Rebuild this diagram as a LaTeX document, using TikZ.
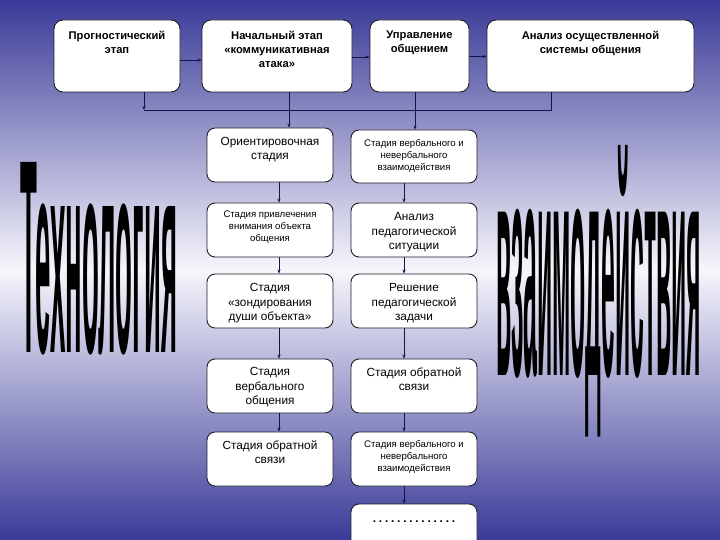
\documentclass[tikz,border=0pt]{standalone}
\usepackage{graphicx}
\usepackage{fontspec}
\setmainfont{Liberation Sans}
\usetikzlibrary{arrows.meta}
\definecolor{bgdark}{RGB}{58,58,152}
\definecolor{bglight}{RGB}{246,246,252}
\definecolor{conncol}{RGB}{20,20,70}
\definecolor{boxline}{RGB}{30,30,40}
\newcommand{\dotrow}{.\hspace{2.8pt}.\hspace{2.8pt}.\hspace{2.8pt}.\hspace{2.8pt}.\hspace{2.8pt}.\hspace{2.8pt}.\hspace{2.8pt}.\hspace{2.8pt}.\hspace{2.8pt}.\hspace{2.8pt}.\hspace{2.8pt}.\hspace{2.8pt}.\hspace{2.8pt}.}
\tikzset{
  box/.style={draw=boxline, fill=white, rounded corners=9pt, line width=0.9pt, inner sep=0pt},
  topbox/.style={box, minimum height=72pt},
  colbox/.style={box, minimum width=126pt, minimum height=54pt, rounded corners=8pt},
  toptxt/.style={anchor=north, align=center, inner sep=0pt, font=\fontsize{11.2}{14}\selectfont\bfseries},
  bigtxt/.style={anchor=north, align=center, inner sep=0pt, font=\fontsize{11.8}{14.3}\selectfont},
  smalltxt/.style={anchor=north, align=center, inner sep=0pt, font=\fontsize{9.6}{12}\selectfont},
  conn/.style={draw=conncol, line width=0.8pt},
  arr/.style={conn, -{Stealth[length=4pt,width=3.2pt]}},
  wordart/.style={anchor=base west, inner sep=0pt, text=black}
}
\begin{document}
\begin{tikzpicture}[x=1pt,y=-1pt]
\useasboundingbox (0,0) rectangle (720,540);
\clip (0,0) rectangle (720,540);
\shade[top color=bgdark, bottom color=bgdark, middle color=bglight] (0,0) rectangle (720,540);

% top row
\node[topbox, minimum width=126pt] (b1) at (117,56) {};
\node[topbox, minimum width=150pt] (b2) at (277,56) {};
\node[topbox, minimum width=99pt] (b3) at (419.5,56) {};
\node[topbox, minimum width=207pt] (b4) at (590.5,56) {};
\node[toptxt] (t1) at ([yshift=-11pt]b1.north) {Прогностический\\этап};
\node[toptxt] (t2) at ([yshift=-11pt]b2.north) {Начальный этап\\«коммуникативная\\атака»};
\node[toptxt] (t3) at ([yshift=-11pt]b3.north) {Управление\\общением};
\node[toptxt] (t4) at ([yshift=-11pt]b4.north) {Анализ осуществленной\\системы общения};

% left column
\node[colbox] (L1) at (270,155) {};
\node[colbox] (L2) at (270,230) {};
\node[colbox] (L3) at (270,301) {};
\node[colbox] (L4) at (270,386) {};
\node[colbox] (L5) at (270,459) {};
\node[bigtxt] at ([yshift=-9.5pt]L1.north) {Ориентировочная\\стадия};
\node[smalltxt] at ([yshift=-8.5pt]L2.north) {Стадия привлечения\\внимания объекта\\общения};
\node[bigtxt] at ([yshift=-10pt]L3.north) {Стадия\\«зондирования\\души объекта»};
\node[bigtxt] at ([yshift=-9pt]L4.north) {Стадия\\вербального\\общения};
\node[bigtxt] at ([yshift=-9pt]L5.north) {Стадия обратной\\связи};

% right column
\node[colbox, minimum height=53pt] (R1) at (414,156.5) {};
\node[colbox] (R2) at (414,230) {};
\node[colbox] (R3) at (414,301) {};
\node[colbox] (R4) at (414,386) {};
\node[colbox] (R5) at (414,459) {};
\node[colbox, minimum height=60pt] (R6) at (414,534) {};
\node[smalltxt] at ([yshift=-9.5pt]R1.north) {Стадия вербального и\\невербального\\взаимодействия};
\node[bigtxt] at ([yshift=-10pt]R2.north) {Анализ\\педагогической\\ситуации};
\node[bigtxt] at ([yshift=-10pt]R3.north) {Решение\\педагогической\\задачи};
\node[bigtxt] at ([yshift=-9pt]R4.north) {Стадия обратной\\связи};
\node[smalltxt] at ([yshift=-8.5pt]R5.north) {Стадия вербального и\\невербального\\взаимодействия};
\node[bigtxt, anchor=center, font=\fontsize{11.8}{14.3}\selectfont\bfseries] at (414,522) {\dotrow};

% top connectors
\draw[arr] ([yshift=-4pt]b1.east) -- ([yshift=-4pt]b2.west);
\draw[arr] ([yshift=-1pt]b2.east) -- ([yshift=-1pt]b3.west);
\draw[arr] ([yshift=-0.5pt]b3.east) -- ([yshift=-0.5pt]b4.west);
\coordinate (busL) at (144,110);
\coordinate (busR) at (551,110);
\draw[arr] (b1.south -| busL) -- (busL);
\draw[conn] (b4.south -| busR) -- (busR) -- (busL);
\draw[arr] ([xshift=12pt]b2.south) -- ([xshift=19pt]L1.north);
\draw[arr] ([xshift=1pt]R1.north |- b3.south) -- ([xshift=1pt]R1.north);

% column arrows
\foreach \a/\b in {L1/L2,L2/L3,L3/L4,L4/L5}
  \draw[arr] ([xshift=9pt]\a.south) -- ([xshift=9pt]\b.north);
\foreach \a/\b in {R1/R2,R2/R3,R3/R4,R4/R5,R5/R6}
  \draw[arr] ([xshift=-10pt]\a.south) -- ([xshift=-10pt]\b.north);

% word art
\node[wordart] (tech) at (20,352) {\resizebox{157pt}{190pt}{\bfseries Технология}};
\node[wordart] (vz) at (496,375) {\resizebox{205pt}{230pt}{\bfseries взаимодействия}};
\end{tikzpicture}
\end{document}
